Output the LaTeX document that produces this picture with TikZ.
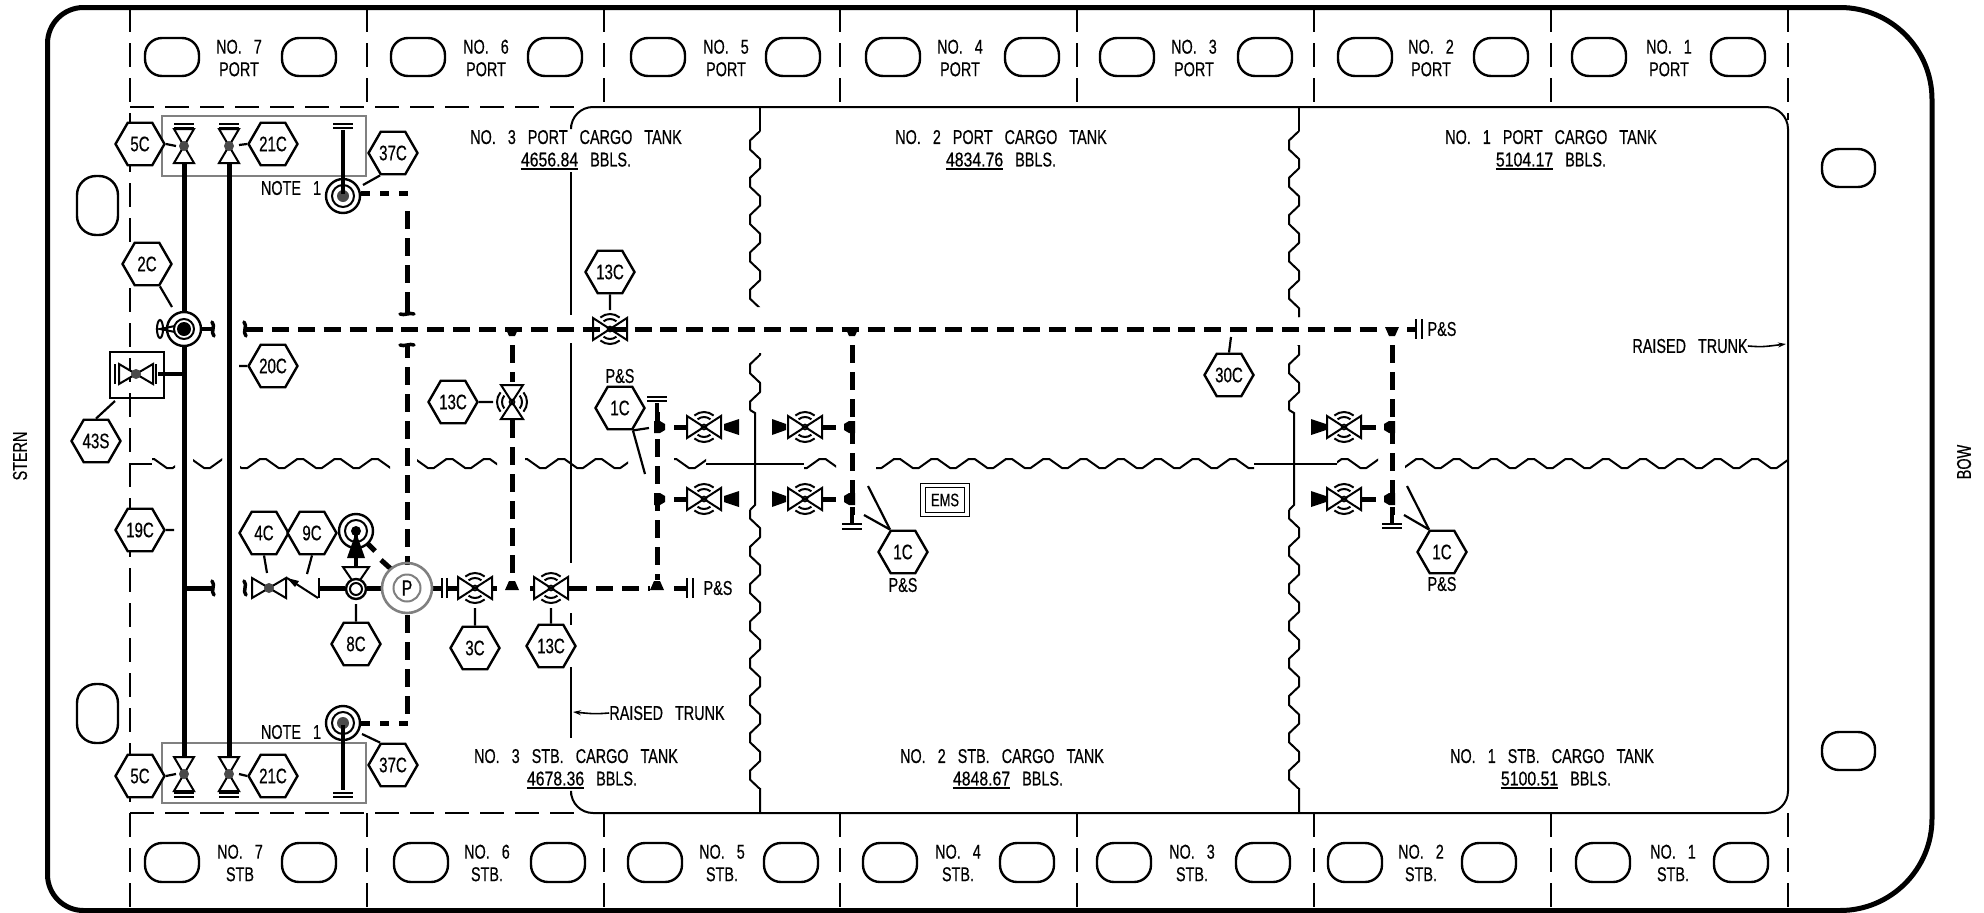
\documentclass[tikz,border=0pt]{standalone}
\usepackage{fontspec}
\usepackage{graphicx}
\setmainfont[FakeStretch=0.72,WordSpace=3,FakeBold=0.5]{Liberation Sans}
\usetikzlibrary{shapes.geometric,calc,arrows.meta}
\definecolor{grayline}{HTML}{808080}
\definecolor{dotgray}{HTML}{4A4A4A}
\tikzset{
  hull/.style={line width=5pt,line join=round},
  thinline/.style={line width=2pt},
  ovalline/.style={line width=2.4pt},
  bayline/.style={line width=2pt,dash pattern=on 24pt off 11pt},
  wavel/.style={line width=2pt,line join=round,line cap=round},
  solidpipe/.style={line width=5pt},
  dashpipe/.style={line width=5pt,dash pattern=on 18pt off 9pt},
  mainpipe/.style={line width=5pt,dash pattern=on 17pt off 8.9pt},
  vlv/.style={line width=2pt,line join=miter},
  leader/.style={line width=2.2pt},
  hexa/.style={draw,fill=white,line width=2.4pt,regular polygon,regular polygon sides=6,minimum size=49pt,inner sep=0pt,font=\fontsize{21}{21}\selectfont},
  txt/.style={inner sep=0pt,align=center,font=\fontsize{20}{22.5}\selectfont},
  graybox/.style={draw=grayline,line width=1.6pt},
}
% underlined, widened quantity
\newcommand{\qty}[1]{\setbox0=\hbox{\scalebox{1.1}[1]{#1}}\rlap{\rule[-3.5pt]{\wd0}{1.7pt}}\box0\relax}
% control valve with arcs
\newcommand{\ctlv}[4]{\begin{scope}[shift={(#2,#3)},rotate=#4]
  \coordinate (#1) at (0,0);
  \draw[vlv] (50:10pt) arc[start angle=50,end angle=130,radius=10pt];
  \draw[vlv] (50:15pt) arc[start angle=50,end angle=130,radius=15pt];
  \draw[vlv] (-50:10pt) arc[start angle=-50,end angle=-130,radius=10pt];
  \draw[vlv] (-50:15pt) arc[start angle=-50,end angle=-130,radius=15pt];
  \draw[vlv] (-17pt,-11pt)--(17pt,11pt)--(17pt,-11pt)--(-17pt,11pt)--cycle;
  \draw[line width=1.6pt] (0,0) circle[radius=2.5pt];
\end{scope}}
% gate valve with dark dot
\newcommand{\gatev}[4]{\begin{scope}[shift={(#2,#3)},rotate=#4]
  \coordinate (#1) at (0,0);
  \draw[vlv,fill=white] (-17pt,-10pt)--(17pt,10pt)--(17pt,-10pt)--(-17pt,10pt)--cycle;
  \fill[dotgray] (0,0) circle[radius=5pt];
\end{scope}}
% pair of short bars
\newcommand{\hbars}[3]{\draw[line width=2pt] (#1-10,#2)--(#1+10,#2) (#1-10,#3)--(#1+10,#3);}
\newcommand{\vbars}[3]{\draw[line width=2pt] (#1,#3-10)--(#1,#3+10) (#2,#3-10)--(#2,#3+10);}
% rings
\newcommand{\rings}[3]{\coordinate (#1) at (#2,#3);
  \draw[line width=2.4pt,fill=white] (#1) circle[radius=17pt];
  \draw[line width=2pt] (#1) circle[radius=11pt];
  \fill[dotgray] (#1) circle[radius=6pt];}
% hooks
\newcommand{\hookv}[2]{\draw[line width=3.5pt,line cap=round] ({#1-1},{#2-7}) .. controls ({#1+3},{#2-3}) and ({#1-3},{#2+3}) .. ({#1+1},{#2+7});}
\newcommand{\hookh}[2]{\draw[line width=3.5pt,line cap=round] ({#1-7},{#2}) .. controls ({#1-3},{#2+2}) and ({#1+3},{#2-2}) .. ({#1+7},{#2});}
% leader from a hexagon anchor to a named free end
\newcommand{\lead}[3]{\coordinate (#2) at (#3); \draw[leader] (#1) -- (#2);}
% vertical wave pieces
\newcommand{\wavev}[4]{\foreach \k in {#2,...,#3}{\pgfmathsetmacro\cc{#1+37.3*\k}
  \draw[wavel] ({#4+10},{\cc-14}) -- (#4,{\cc-4.5}) -- (#4,{\cc+4.5}) -- ({#4+10},{\cc+14}) -- ({#4+10},{\cc+23.3});}}
% solid black flags on the branch valves
\newcommand{\bumpr}[2]{\fill (#1-3,#2-6)--(#1+3,#2-6)--(#1+8,#2-3)--(#1+8,#2+3)--(#1+3,#2+6)--(#1-3,#2+6)--cycle;}
\newcommand{\bumpl}[2]{\fill (#1+3,#2-6)--(#1-3,#2-6)--(#1-8,#2-3)--(#1-8,#2+3)--(#1-3,#2+6)--(#1+3,#2+6)--cycle;}
\newcommand{\jdown}[2]{\fill (#1-7,#2-2)--(#1+7,#2-2)--(#1+3,#2+7)--(#1-3,#2+7)--cycle;}
\newcommand{\jup}[2]{\fill (#1-7,#2+2)--(#1+7,#2+2)--(#1+3,#2-7)--(#1-3,#2-7)--cycle;}
\begin{document}
\begin{tikzpicture}[x=1pt,y=-1pt]
\useasboundingbox (0,0) rectangle (1984,913);
\fill[white] (0,0) rectangle (1984,913);
% hull
\draw[hull] (47.5,400) [rounded corners=36pt] -- (47.5,7.5) -- (1000,7.5) [rounded corners=92pt] -- (1932,7.5) -- (1932,910.5) -- (1000,910.5) [rounded corners=36pt] -- (47.5,910.5) -- cycle;
% bay lines
\draw[bayline] (130,8) -- (130,908);
\foreach \xx in {367,604,840,1077,1314,1551}{
  \draw[bayline] (\xx,8) -- (\xx,107);
  \draw[bayline] (\xx,813) -- (\xx,908);
}
\draw[bayline] (1788,8) -- (1788,120);
\draw[bayline] (1788,813) -- (1788,908);
\draw[bayline] (130,107) -- (582,107);
\draw[bayline] (130,813) -- (582,813);
% trunk outline
\draw[thinline,rounded corners=22pt] (571,125) -- (571,107) -- (1788,107) -- (1788,813) -- (571,813) -- (571,795);
\draw[thinline] (571,172)--(571,315) (571,343)--(571,563) (571,613)--(571,625) (571,667)--(571,738);
% horizontal swash
\begin{scope}
\clip (152,450) rectangle (175,475) (193,450) rectangle (222,475) (240,450) rectangle (390,475) (417,450) rectangle (497,475) (525,450) rectangle (628,475) (674,450) rectangle (706,475) (804,450) rectangle (836,475) (876,450) rectangle (1254,475) (1337,450) rectangle (1378,475) (1405,450) rectangle (1788,475);
\foreach \k in {-4,...,41}{\pgfmathsetmacro\cc{263+37.3*\k}
  \draw[wavel] ({\cc-3},459) -- ({\cc+3},459) -- ({\cc+15.65},468) -- ({\cc+21.65},468) -- ({\cc+34.3},459);}
\end{scope}
\draw[thinline] (130,464)--(152,464) (706,464)--(804,464) (1254,464)--(1337,464);
% tank walls
\draw[thinline] (760,107)--(760,131) (1299,107)--(1299,131);
\begin{scope}\clip (700,131) rectangle (800,307) (700,353) rectangle (800,410);
\wavev{145}{0}{7}{750}\end{scope}
\begin{scope}\clip (1240,131) rectangle (1340,317) (1240,345) rectangle (1340,410);
\wavev{145}{0}{7}{1289}\end{scope}
\begin{scope}\clip (700,510) rectangle (800,788);
\wavev{514}{0}{7}{750}\end{scope}
\begin{scope}\clip (1240,510) rectangle (1340,788);
\wavev{514}{0}{7}{1289}\end{scope}
\draw[thinline] (750,410)--(755,413)--(755,505)--(750,510) (760,788)--(760,813);
\draw[thinline] (1289,410)--(1294,413)--(1294,505)--(1289,510) (1299,788)--(1299,813);
% ovals
\foreach \xx in {172,309,418,555,658,793,893,1032,1127,1265,1365,1501,1599,1738}{
  \draw[ovalline,rounded corners=17pt] ({\xx-27},38) rectangle ({\xx+27},76);}
\foreach \xx in {172,309,421,558,655,791,890,1027,1124,1263,1355,1489,1603,1741}{
  \draw[ovalline,rounded corners=17pt] ({\xx-27},843) rectangle ({\xx+27},882);}
\draw[ovalline,rounded corners=19pt] (77,176) rectangle (118,235);
\draw[ovalline,rounded corners=19pt] (77,684) rectangle (118,743);
\draw[ovalline,rounded corners=17pt] (1822,149) rectangle (1875,187);
\draw[ovalline,rounded corners=17pt] (1822,732) rectangle (1875,770);
% gray boxes
\draw[graybox] (162,116) rectangle (366,176);
\draw[graybox] (162,743) rectangle (366,803);
% solid pipes
\draw[solidpipe] (184,163) -- (184,757);
\draw[solidpipe] (229,163) -- (229,757);
\draw[line width=4pt] (343,130) -- (343,196);
\draw[line width=4pt] (343,723) -- (343,790);
\hbars{184}{124}{128}
\hbars{229}{124}{128}
\hbars{343}{124}{128}
\hbars{184}{793}{797}
\hbars{229}{793}{797}
\hbars{343}{793}{797}
\gatev{vA}{184}{146}{90}
\gatev{vB}{229}{146}{90}
\gatev{vC}{184}{774}{90}
\gatev{vD}{229}{774}{90}
% main dashed line
\draw[mainpipe] (246,329) -- (1385,329);
\hookv{245}{329}
\draw[solidpipe] (1407,329) -- (1415,329);
\vbars{1416}{1422}{329}
\jdown{512}{329}
\jdown{852}{329}
\jdown{1392}{329}
% note-1 risers
\draw[line width=5pt,dash pattern=on 9pt off 10pt] (361,193) -- (409,193);
\draw[dashpipe] (407,211) -- (407,304);
\draw[line width=5pt] (407,293)--(407,313);
\hookh{407}{314}
\hookh{407}{345}
\draw[line width=5pt] (407,345)--(407,358);
\draw[dashpipe] (407,367) -- (407,565);
\draw[dashpipe] (407,615) -- (407,720);
\draw[line width=5pt,dash pattern=on 9pt off 10pt] (361,723) -- (409,723);
\rings{rT}{343}{196}
\draw[line width=4pt] (343,130) -- (343,194);
\rings{rB}{343}{723}
\draw[line width=4pt] (343,725) -- (343,790);
% 2C
\fill[white] (184,329) circle[radius=17pt];
\draw[line width=2.4pt] (184,329) circle[radius=17pt];
\draw[line width=2pt] (184,329) circle[radius=10pt];
\fill (184,329) circle[radius=7pt];
\draw[line width=2pt] (175,326)--(160,329)--(175,332);
\draw[line width=2pt] (160,329) ellipse[x radius=3pt,y radius=9pt];
\draw[line width=4pt] (202,329)--(212,329);
\hookv{213}{329}
% stern valve
\node[draw,line width=2pt,minimum width=54pt,minimum height=46pt,inner sep=0pt] (bx) at (137,375) {};
\gatev{vS}{136}{374}{0}
\draw[line width=2pt] (115,364)--(115,384) (156,364)--(156,384);
\draw[line width=4pt] (158,374)--(184,374);
% lower pipe
\draw[solidpipe] (184,588)--(212,588);
\hookv{213}{588}
\hookv{245}{588}
\gatev{vE}{269}{588}{0}
% check valve
\draw[line width=2pt] (287,578)--(318,598);
\fill (287,578)--(299,581)--(295,587)--cycle;
\draw[line width=2pt] (319,578)--(319,598);
\draw[solidpipe] (320,588)--(345,588);
\draw[solidpipe] (367,588)--(382,588);
\draw[solidpipe] (433,588)--(441,588);
\vbars{442}{447}{588}
\draw[solidpipe] (447,588)--(458,588);
\draw[solidpipe] (492,588)--(497,588);
\draw[solidpipe] (530,588)--(534,588);
\draw[solidpipe] (568,588)--(587,588);
\draw[line width=5pt,dash pattern=on 17pt off 9pt] (596,588)--(650,588);
\draw[solidpipe] (674,588)--(687,588);
\vbars{687}{693}{588}
\jup{512}{588}
\jup{657}{588}
% 8C valve
\draw[vlv,fill=white] (343,567)--(369,567)--(356,586)--cycle;
\draw[line width=2.4pt,fill=white] (356,589) circle[radius=10pt];
\draw[line width=2pt] (356,589) circle[radius=6pt];
\draw[line width=2.4pt,fill=white] (356,531) circle[radius=17pt];
\draw[line width=2pt] (356,531) circle[radius=11pt];
\fill (356,531) circle[radius=5pt];
\fill (347,558)--(365,558)--(358,538)--(354,538)--cycle;
\draw[line width=4pt] (356,531)--(356,540) (356,556)--(356,567);
\draw[line width=5pt] (367,543)--(375,551) (381,560)--(391,569);
% pump
\node[circle,draw=grayline,line width=2.6pt,minimum size=50pt,inner sep=0pt] (pOut) at (407,588) {};
\node[circle,draw=grayline,line width=2pt,minimum size=27pt,inner sep=0pt,font=\fontsize{22}{22}\selectfont] (pIn) at (407,588) {P};
% branch lines
\draw[dashpipe] (512,345) -- (512,382);
\draw[dashpipe] (512,420) -- (512,580);
\draw[dashpipe] (657,412) -- (657,580);
\draw[line width=4pt] (657,403)--(657,412);
\hbars{657}{397}{401}
\draw[dashpipe] (852,345) -- (852,515);
\draw[line width=4pt] (852,515)--(852,524);
\hbars{852}{524}{529}
\draw[dashpipe] (1392,345) -- (1392,515);
\draw[line width=4pt] (1392,515)--(1392,524);
\hbars{1392}{524}{528}
\foreach \yy in {427,499}{
  \bumpr{657}{\yy}
  \bumpl{852}{\yy}
  \bumpl{1392}{\yy}
  \draw[solidpipe] (674,\yy)--(687,\yy);
  \fill (724,{\yy-3})--(739,{\yy-8})--(739,{\yy+8})--(724,{\yy+3})--cycle;
  \draw[solidpipe] (823,\yy)--(836,\yy);
  \fill (786,{\yy-3})--(772,{\yy-8})--(772,{\yy+8})--(786,{\yy+3})--cycle;
  \fill (1326,{\yy-3})--(1311,{\yy-8})--(1311,{\yy+8})--(1326,{\yy+3})--cycle;
  \draw[solidpipe] (1361,\yy)--(1376,\yy);
}
\ctlv{v1}{610}{329}{0}
\ctlv{v2}{512}{402}{90}
\ctlv{v3}{475}{588}{0}
\ctlv{v4}{551}{588}{0}
\ctlv{v5}{704}{427}{0}
\ctlv{v6}{704}{499}{0}
\ctlv{v7}{805}{427}{0}
\ctlv{v8}{805}{499}{0}
\ctlv{v9}{1344}{427}{0}
\ctlv{v10}{1344}{499}{0}
% hexagons
\node[hexa] (h5a) at (140,144) {5C};
\node[hexa] (h21a) at (273,144) {21C};
\node[hexa] (h37a) at (393,153) {37C};
\node[hexa] (h2) at (147,264) {2C};
\node[hexa] (h20) at (273,366) {20C};
\node[hexa] (h13a) at (453,402) {13C};
\node[hexa] (h43) at (96,441) {43S};
\node[hexa] (h19) at (140,530) {19C};
\node[hexa] (h4) at (264,533) {4C};
\node[hexa] (h9) at (312,533) {9C};
\node[hexa] (h8) at (356,644) {8C};
\node[hexa] (h3) at (475,648) {3C};
\node[hexa] (h13b) at (551,646) {13C};
\node[hexa] (h13c) at (610,272) {13C};
\node[hexa] (h5b) at (140,776) {5C};
\node[hexa] (h21b) at (273,776) {21C};
\node[hexa] (h37b) at (393,765) {37C};
\node[hexa] (h1a) at (620,408) {1C};
\node[hexa] (h1b) at (903,552) {1C};
\node[hexa] (h1c) at (1442,552) {1C};
\node[hexa] (h30) at (1229,375) {30C};
% leaders
\lead{h5a.east}{l1}{176,146}
\lead{h21a.west}{l2}{239,145}
\lead{h37a.240}{l3}{363,185}
\lead{h2.300}{l4}{172,307}
\lead{h20.west}{l5}{239,366}
\lead{h13a.east}{l6}{493,402}
\lead{h19.east}{l7}{174,530}
\lead{h4.south}{l8}{267,573}
\lead{h9.south}{l9}{307,574}
\lead{h8.north}{l10}{356,604}
\lead{h3.north}{l11}{475,608}
\lead{h13b.north}{l12}{551,608}
\lead{h13c.south}{l13}{610,310}
\lead{h30.north}{l14}{1231,337}
\lead{h5b.east}{l15}{176,774}
\lead{h21b.west}{l16}{239,774}
\lead{h37b.120}{l17}{362,734}
\lead{h43.north}{l18}{115,401}
\lead{h1a.300}{l19}{649,428}
\lead{h1a.300}{l20}{645,474}
\lead{h1b.120}{l21}{868,486}
\lead{h1b.120}{l22}{864,515}
\lead{h1c.120}{l23}{1407,486}
\lead{h1c.120}{l24}{1404,515}
% EMS
\node[draw,line width=1.8pt,minimum width=49pt,minimum height=33pt,inner sep=0pt] (emsO) at (945,500) {};
\node[draw,line width=1.2pt,minimum width=39pt,minimum height=25pt,inner sep=0pt,font=\fontsize{18}{18}\selectfont] (emsI) at (945,500) {EMS};
% labels
\foreach \xx/\nn in {239/7,486/6,726/5,960/4,1194/3,1431/2,1669/1}{
  \node[txt] (pl\nn) at (\xx,58) {NO. \nn\\PORT};}
\node[txt] (sl7) at (240,863) {NO. 7\\STB};
\foreach \xx/\nn in {487/6,722/5,958/4,1192/3,1421/2,1673/1}{
  \node[txt] (sl\nn) at (\xx,863) {NO. \nn\\STB.};}
\node[txt] (n1a) at (291,188) {NOTE 1};
\node[txt] (n1b) at (291,732) {NOTE 1};
\node[txt] (ptk3) at (576,150) {NO. 3 PORT CARGO TANK\\\qty{4656.84} BBLS.};
\node[txt] (ptk2) at (1001,150) {NO. 2 PORT CARGO TANK\\\qty{4834.76} BBLS.};
\node[txt] (ptk1) at (1551,150) {NO. 1 PORT CARGO TANK\\\qty{5104.17} BBLS.};
\node[txt] (stk3) at (576,769) {NO. 3 STB. CARGO TANK\\\hspace*{12pt}\qty{4678.36} BBLS.};
\node[txt] (stk2) at (1002,769) {NO. 2 STB. CARGO TANK\\\hspace*{12pt}\qty{4848.67} BBLS.};
\node[txt] (stk1) at (1552,769) {NO. 1 STB. CARGO TANK\\\hspace*{8pt}\qty{5100.51} BBLS.};
\node[txt,rotate=90] (stern) at (20,456) {STERN};
\node[txt,rotate=90] (bow) at (1964,462) {BOW};
\node[txt] (ps1) at (620,376) {P\&S};
\node[txt] (ps2) at (718,588) {P\&S};
\node[txt] (ps3) at (903,585) {P\&S};
\node[txt] (ps4) at (1442,584) {P\&S};
\node[txt] (ps5) at (1442,329) {P\&S};
\node[txt] (rt1) at (1690,346) {RAISED TRUNK};
\node[txt] (rt2) at (667,713) {RAISED TRUNK};
\coordinate (rtEnd1) at (1786,344);
\coordinate (rtEnd2) at (573,712);
\draw[line width=1.6pt,-{Stealth[length=8pt,width=5pt]}] (rt1.east) .. controls (1762,347) .. (rtEnd1);
\draw[line width=1.6pt,-{Stealth[length=8pt,width=5pt]}] (rt2.west) .. controls (595,714) .. (rtEnd2);
\end{tikzpicture}
\end{document}
